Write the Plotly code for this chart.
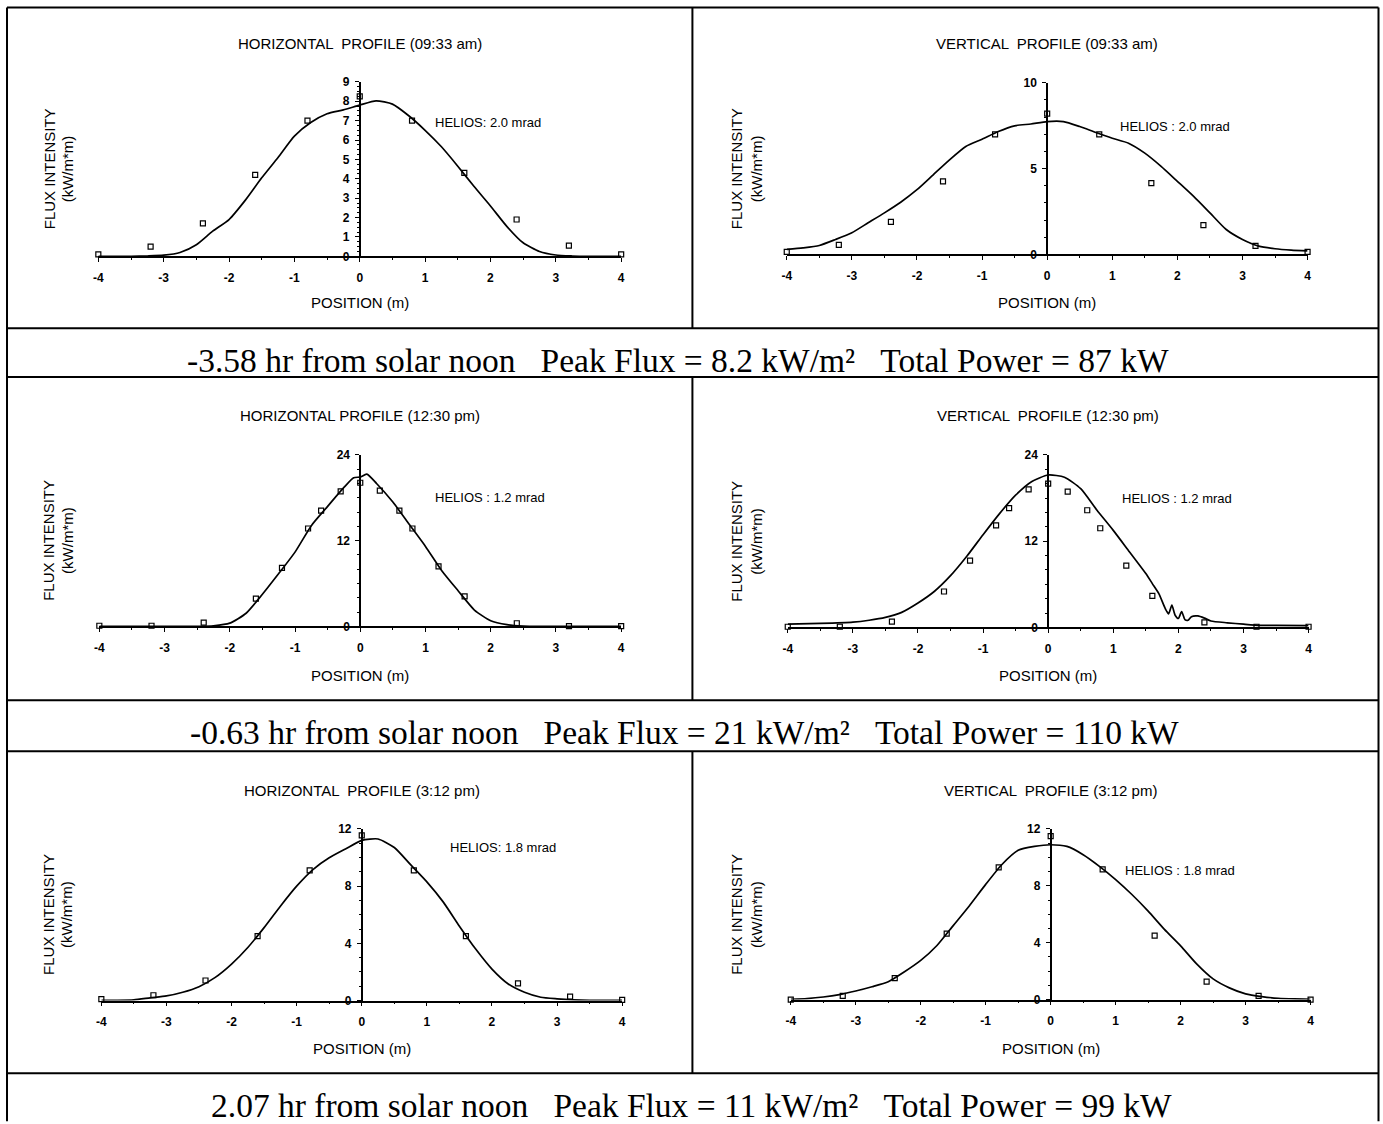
import plotly.graph_objects as go

# ---------------- data ----------------
GRID_X = [-4, -3.75, -3.5, -3.25, -3, -2.75, -2.5, -2.25, -2, -1.75, -1.5, -1.25, -1, -0.75,
          -0.5, -0.25, 0, 0.25, 0.5, 0.75, 1, 1.25, 1.5, 1.75, 2, 2.25, 2.5, 2.75, 3, 3.25,
          3.5, 3.75, 4]

DATA_X11 = [-4, -3.2, -2.4, -1.6, -0.8, 0, 0.8, 1.6, 2.4, 3.2, 4]
DATA_X17 = [-4, -3.2, -2.4, -1.6, -1.2, -0.8, -0.6, -0.3, 0, 0.3, 0.6, 0.8, 1.2, 1.6, 2.4, 3.2, 4]

# 09:33 am
h0933_model = [0.0, 0.0, 0.0, 0.02, 0.06, 0.2, 0.6, 1.3, 1.9, 2.9, 4.05, 5.1, 6.2, 6.9, 7.35,
               7.55, 7.8, 8.02, 7.85, 7.25, 6.5, 5.65, 4.65, 3.6, 2.6, 1.55, 0.7, 0.25, 0.07,
               0.02, 0.0, 0.0, 0.0]
h0933_meas = [0.1, 0.5, 1.7, 4.2, 7.0, 8.25, 7.0, 4.3, 1.9, 0.55, 0.1]

v0933_model = [0.29, 0.38, 0.52, 0.87, 1.26, 1.84, 2.42, 3.04, 3.77, 4.64, 5.51, 6.29, 6.71,
               7.16, 7.49, 7.6, 7.74, 7.74, 7.45, 7.1, 6.77, 6.48, 5.9, 5.13, 4.26, 3.38, 2.42,
               1.45, 0.87, 0.48, 0.33, 0.25, 0.2]
v0933_meas = [0.15, 0.55, 1.9, 4.25, 7.0, 8.2, 7.0, 4.15, 1.7, 0.5, 0.15]

# 12:30 pm
h1230_x = [-4, -3.5, -3, -2.5, -2.25, -2, -1.75, -1.5, -1.25, -1, -0.75, -0.5, -0.25, -0.1, 0,
           0.1, 0.25, 0.5, 0.75, 1, 1.25, 1.5, 1.75, 2, 2.25, 2.5, 2.75, 3, 3.5, 4]
h1230_model = [0.0, 0.0, 0.0, 0.02, 0.1, 0.46, 1.85, 4.5, 7.4, 10.4, 14.1, 16.8, 19.45, 20.8,
               20.9, 21.3, 20.0, 17.4, 14.3, 11.2, 7.8, 5.0, 2.3, 0.8, 0.25, 0.05, 0.0, 0.0,
               0.0, 0.0]
h1230_meas = [0.1, 0.1, 0.55, 3.9, 8.2, 13.7, 16.2, 18.9, 20.1, 19.0, 16.2, 13.7, 8.4, 4.2,
              0.45, 0.05, 0.05]

v1230_x = [-4, -3.5, -3, -2.75, -2.5, -2.25, -2, -1.75, -1.5, -1.25, -1, -0.75, -0.5, -0.25,
           0, 0.25, 0.5, 0.75, 1, 1.25, 1.5, 1.6, 1.7, 1.8, 1.85, 1.9, 1.95, 2.0, 2.05, 2.1,
           2.15, 2.2, 2.3, 2.4, 2.5, 2.75, 3, 3.25, 3.5, 4]
v1230_model = [0.46, 0.56, 0.74, 1.0, 1.4, 2.1, 3.4, 5.0, 7.2, 9.9, 12.9, 15.8, 18.4, 20.3,
               21.2, 20.9, 19.3, 16.3, 13.5, 10.5, 7.5, 6.1, 4.7, 2.6, 1.9, 3.1, 1.7, 1.25,
               2.2, 1.1, 1.0, 1.5, 1.6, 1.3, 0.9, 0.65, 0.46, 0.3, 0.3, 0.25]
v1230_meas = [0.1, 0.1, 0.8, 5.0, 9.3, 14.2, 16.6, 19.2, 20.0, 18.9, 16.3, 13.8, 8.6, 4.4,
              0.7, 0.1, 0.1]

# 3:12 pm
h0312_model = [0.02, 0.02, 0.05, 0.19, 0.32, 0.58, 0.97, 1.62, 2.55, 3.71, 5.1, 6.6, 8.0, 9.16,
               9.98, 10.6, 11.2, 11.3, 10.7, 9.5, 8.3, 6.9, 5.2, 3.6, 2.2, 1.16, 0.58, 0.23,
               0.12, 0.05, 0.02, 0.02, 0.02]
h0312_meas = [0.1, 0.37, 1.4, 4.5, 9.1, 11.55, 9.1, 4.5, 1.2, 0.28, 0.05]

v0312_model = [0.02, 0.07, 0.18, 0.35, 0.6, 0.9, 1.25, 1.95, 2.75, 3.8, 5.2, 6.6, 8.1, 9.5,
               10.5, 10.77, 10.89, 10.77, 10.19, 9.37, 8.44, 7.39, 6.22, 4.94, 3.78, 2.49,
               1.45, 0.82, 0.4, 0.21, 0.09, 0.04, 0.02]
v0312_meas = [0.0, 0.26, 1.5, 4.64, 9.3, 11.5, 9.15, 4.5, 1.26, 0.26, 0.0]

X_TICKS = [-4, -3, -2, -1, 0, 1, 2, 3, 4]
X_TICKTEXT = ["-4", "-3", "-2", "-1", "0", "1", "2", "3", "4"]

TITLES = ["HORIZONTAL  PROFILE (09:33 am)", "VERTICAL  PROFILE (09:33 am)",
          "HORIZONTAL PROFILE (12:30 pm)", "VERTICAL  PROFILE (12:30 pm)",
          "HORIZONTAL  PROFILE (3:12 pm)", "VERTICAL  PROFILE (3:12 pm)"]
HELIOS = ["HELIOS: 2.0 mrad", "HELIOS : 2.0 mrad", "HELIOS : 1.2 mrad",
          "HELIOS : 1.2 mrad", "HELIOS: 1.8 mrad", "HELIOS : 1.8 mrad"]
NB = "\u00a0\u00a0\u00a0"
CAPTIONS = [
    "-3.58 hr from solar noon" + NB + "Peak Flux = 8.2 kW/m\u00b2" + NB + "Total Power = 87 kW",
    "-0.63 hr from solar noon" + NB + "Peak Flux = 21 kW/m\u00b2" + NB + "Total Power = 110 kW",
    "2.07 hr from solar noon" + NB + "Peak Flux = 11 kW/m\u00b2" + NB + "Total Power = 99 kW",
]
Y_TOP = [9, 10, 24, 24, 12, 12]
Y_TICKS = [[0, 1, 2, 3, 4, 5, 6, 7, 8, 9], [0, 5, 10], [0, 12, 24], [0, 12, 24],
           [0, 4, 8, 12], [0, 4, 8, 12]]
Y_MINOR = [0.25, 1, 2, 2, 1, 1]

# ---------------- layout geometry (target picture pixels) ----------------
W, H = 1383, 1124
PIC_OFF, PIC_SCALE = 7, 0.99   # page -> photographed picture mapping observed
PANEL_X = [(100, 621), (786, 1305), (101, 621), (787, 1306), (103, 622), (790, 1308)]
PANEL_Y = [(82, 257), (83, 255), (456, 628), (456, 629), (831, 1003), (831, 1002)]
TITLE_Y = [44, 44, 417, 417, 792, 792]
XLAB_Y = [303, 303, 677, 677, 1051, 1051]
YLAB_X = [(51, 69), (736, 756), (51, 69), (736, 756), (51, 69), (736, 756)]
HELIOS_POS = [(1.12, 6.9), (1.09, 7.45), (1.12, 18.1), (1.1, 18.0), (1.32, 10.7), (1.12, 9.05)]
CAPTION_POS = [(678, 361), (684, 734), (691, 1108)]


def to_page(v):
    return (v - PIC_OFF) / PIC_SCALE


def px(x):
    return min(max(to_page(x), 0.5), W - 0.5) / W


def py(y):
    return 1 - min(max(to_page(y), 0.5), H + 8) / H


series = [
    (GRID_X, h0933_model, DATA_X11, h0933_meas),
    (GRID_X, v0933_model, DATA_X11, v0933_meas),
    (h1230_x, h1230_model, DATA_X17, h1230_meas),
    (v1230_x, v1230_model, DATA_X17, v1230_meas),
    (GRID_X, h0312_model, DATA_X11, h0312_meas),
    (GRID_X, v0312_model, DATA_X11, v0312_meas),
]

SANS = "Liberation Sans, Arial, sans-serif"
fig = go.Figure()
layout = dict(
    width=W, height=H, margin=dict(l=0, r=0, t=0, b=0, pad=0),
    paper_bgcolor="white", plot_bgcolor="white", showlegend=False,
    font=dict(family=SANS, color="black"),
)
annotations = []
shapes = []

tick_font = dict(family=SANS, size=12, color="black", weight="bold")
label_font = dict(family=SANS, size=15, color="black")

for i, (cx, cy, mx, my) in enumerate(series):
    n = "" if i == 0 else str(i + 1)
    xa, ya = "x" + n, "y" + n
    x0, x1 = PANEL_X[i]
    yt, yb = PANEL_Y[i]
    dom_x = [px(x0), px(x1)]
    dom_y = [py(yb), py(yt)]
    xmid = (dom_x[0] + dom_x[1]) / 2
    layout["xaxis" + n] = dict(
        domain=dom_x, range=[-4, 4], anchor=ya, showgrid=False, zeroline=False,
        showline=True, linecolor="black", linewidth=1.6,
        tickmode="array", tickvals=X_TICKS, ticktext=X_TICKTEXT,
        ticks="outside", ticklen=4, tickwidth=1.3, tickcolor="black",
        ticklabelstandoff=5, tickfont=tick_font,
        minor=dict(ticks="outside", ticklen=2, tickwidth=1, tickcolor="black",
                   tickmode="linear", tick0=0, dtick=0.5),
        fixedrange=True,
    )
    layout["yaxis" + n] = dict(
        domain=dom_y, range=[0, Y_TOP[i]], anchor="free", position=xmid, side="left",
        showgrid=False, zeroline=False, showline=True, linecolor="black", linewidth=1.6,
        tickmode="array", tickvals=Y_TICKS[i],
        ticks="outside", ticklen=4, tickwidth=1.3, tickcolor="black",
        ticklabelstandoff=3, tickfont=tick_font,
        minor=dict(ticks="outside", ticklen=2, tickwidth=1, tickcolor="black",
                   tickmode="linear", tick0=0, dtick=Y_MINOR[i]),
        fixedrange=True,
    )
    fig.add_trace(go.Scatter(x=cx, y=cy, xaxis=xa, yaxis=ya, mode="lines",
                             line=dict(color="black", width=1.7, shape="spline", smoothing=0.6),
                             cliponaxis=False, hoverinfo="skip"))
    fig.add_trace(go.Scatter(x=mx, y=my, xaxis=xa, yaxis=ya, mode="markers",
                             marker=dict(symbol="square-open", size=5, color="black",
                                         line=dict(width=1.2, color="black")),
                             cliponaxis=False, hoverinfo="skip"))
    xc = (x0 + x1) / 2
    annotations.append(dict(text=TITLES[i], x=px(xc), y=py(TITLE_Y[i]), xref="paper", yref="paper",
                            showarrow=False, xanchor="center", yanchor="middle", font=label_font))
    annotations.append(dict(text="POSITION (m)", x=px(xc), y=py(XLAB_Y[i]), xref="paper", yref="paper",
                            showarrow=False, xanchor="center", yanchor="middle", font=label_font))
    ymid = (dom_y[0] + dom_y[1]) / 2
    for txt, lx in zip(["FLUX INTENSITY", "(kW/m*m)"], YLAB_X[i]):
        annotations.append(dict(text=txt, x=px(lx), y=ymid, xref="paper", yref="paper",
                                showarrow=False, xanchor="center", yanchor="middle",
                                textangle=-90, font=label_font))
    hx, hy = HELIOS_POS[i]
    annotations.append(dict(text=HELIOS[i], x=hx, y=hy, xref=xa, yref=ya, showarrow=False,
                            xanchor="left", yanchor="middle",
                            font=dict(family=SANS, size=13, color="black")))

for (cx, cy), cap in zip(CAPTION_POS, CAPTIONS):
    annotations.append(dict(text=cap, x=px(cx), y=py(cy), xref="paper", yref="paper", showarrow=False,
                            xanchor="center", yanchor="middle",
                            font=dict(family="Liberation Serif, Times New Roman, serif", size=33.5,
                                      color="black")))

# table borders (target picture pixels; clamped to the drawable page)
LX, RX, MX = 9, 1377, 692
TOP = 5
H_LINES = [TOP, 329, 378, 702, 753, 1076]
PANEL_ROWS = [(TOP, 329), (378, 702), (753, 1076)]
line_style = dict(color="black", width=2)
for yy in H_LINES:
    shapes.append(dict(type="line", xref="paper", yref="paper", x0=px(LX), x1=px(RX),
                       y0=py(yy), y1=py(yy), line=line_style))
for xx in (LX, RX):
    shapes.append(dict(type="line", xref="paper", yref="paper", x0=px(xx), x1=px(xx),
                       y0=py(TOP), y1=py(1124), line=line_style))
for a, b in PANEL_ROWS:
    shapes.append(dict(type="line", xref="paper", yref="paper", x0=px(MX), x1=px(MX),
                       y0=py(a), y1=py(b), line=line_style))

layout["annotations"] = annotations
layout["shapes"] = shapes
fig.update_layout(**layout)

fig.write_html("out.html", config={"displayModeBar": False},
               post_script="document.body.style.margin='0px';document.body.style.overflow='hidden';")
